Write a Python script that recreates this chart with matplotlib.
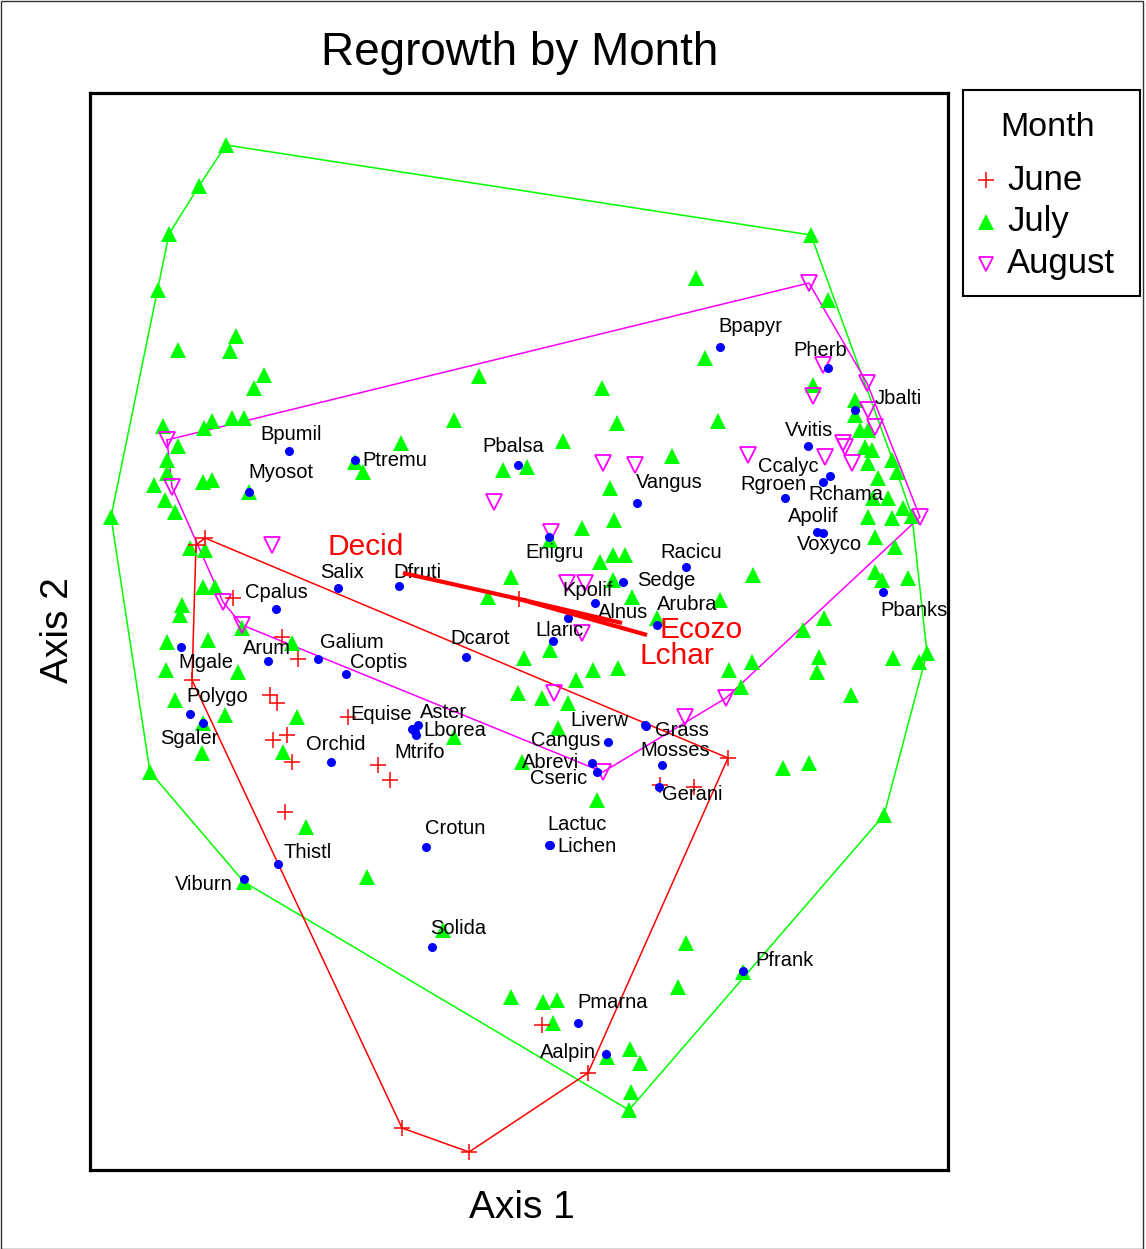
import matplotlib
matplotlib.use("Agg")
import matplotlib.pyplot as plt
from matplotlib.lines import Line2D
from matplotlib.patches import Rectangle

plt.rcParams['font.family'] = ['Liberation Sans', 'DejaVu Sans']

# ---------------- sample unit scores (Axis 1, Axis 2) by month ----------------
june_x = [115, 106, 143, 192, 208, 102, 180, 187, 258, 197, 183, 202, 288, 300, 195,
          638, 604, 570, 452, 498, 379, 312]
june_y = [632, 625, 572, 533, 511, 490, 475, 467, 453, 435, 430, 408, 405, 390, 358,
          412, 383, 385, 145, 97, 18, 42]

july_x = [136, 109, 79, 68, 88, 146, 140, 174, 164, 73, 114, 122, 142, 154, 88, 77,
          265, 273, 64, 77, 113, 122, 75, 85, 159, 21, 100, 115, 113, 125, 92, 90,
          77, 118, 152, 202, 76, 148, 85, 135, 113, 207, 112, 193, 60, 216, 277, 154,
          353, 421, 453, 467, 463, 517, 540, 550, 541, 539, 596, 588, 653, 794, 693,
          719, 761, 651, 639, 662, 729, 727, 803, 837, 829, 713, 734, 567, 630, 663,
          785, 792, 818, 805, 785, 723, 765, 765, 770, 778, 775, 782, 778, 802, 788,
          807, 783, 798, 778, 802, 813, 822, 721, 738, 606, 615, 628, 582, 389, 512,
          364, 527, 311, 473, 413, 437, 520, 524, 492, 460, 510, 523, 535, 421, 523,
          542, 398, 460, 434, 503, 528, 486, 428, 452, 478, 468, 364, 432, 507]
july_y = [1025, 984, 936, 880, 820, 834, 819, 795, 782, 744, 742, 749, 752, 752, 724, 710,
          708, 698, 685, 697, 688, 690, 670, 658, 678, 653, 622, 620, 583, 583, 565, 555,
          528, 530, 542, 527, 500, 498, 470, 455, 447, 453, 417, 418, 398, 343, 293, 288,
          240, 173, 168, 170, 147, 113, 121, 107, 78, 60, 227, 183, 198, 355, 402,
          407, 475, 483, 500, 508, 513, 498, 512, 517, 508, 540, 552, 552, 570, 595,
          598, 590, 592, 623, 633, 785, 770, 755, 740, 740, 723, 720, 707, 710, 692,
          698, 672, 672, 653, 652, 662, 654, 935, 870, 892, 812, 749, 714, 794, 782,
          750, 747, 727, 729, 700, 703, 682, 650, 642, 630, 608, 615, 615, 593, 590,
          573, 573, 520, 512, 500, 502, 490, 477, 472, 467, 442, 433, 408, 370]

august_x = [77, 82, 182, 133, 152, 719, 733, 723, 777, 778, 785, 753, 755, 735, 762,
            658, 830, 513, 545, 404, 461, 477, 495, 492, 464, 513, 595, 636]
august_y = [730, 683, 625, 568, 545, 887, 805, 774, 787, 760, 743, 727, 723, 713, 707,
            715, 653, 707, 705, 668, 638, 587, 587, 537, 477, 398, 453, 472]

# ---------------- species scores ----------------
species = ["Bpapyr", "Pherb", "Jbalti", "Bpumil", "Ptremu", "Myosot", "Pbalsa", "Vvitis",
           "Ccalyc", "Rgroen", "Rchama", "Vangus", "Apolif", "Voxyco", "Enigru", "Racicu",
           "Salix", "Dfruti", "Sedge", "Cpalus", "Kpolif", "Arubra", "Pbanks", "Alnus",
           "Llaric", "Arum", "Galium", "Dcarot", "Coptis", "Mgale", "Polygo", "Equise",
           "Aster", "Lborea", "Liverw", "Grass", "Sgaler", "Cangus", "Orchid", "Mtrifo",
           "Mosses", "Abrevi", "Cseric", "Gerani", "Lactuc", "Crotun", "Lichen", "Thistl",
           "Viburn", "Solida", "Pfrank", "Pmarna", "Aalpin"]
species_x = [630, 738, 765, 199, 265, 159, 428, 718, 740, 695, 733, 547, 727, 733, 459, 596,
             248, 309, 533, 186, 505, 567, 793, 478, 463, 178, 228, 376, 256, 91, 100, 322,
             328, 326, 555, 556, 113, 518, 241, 325, 572, 502, 507, 569, 459, 336, 460, 188,
             154, 342, 653, 488, 516]
species_y = [823, 802, 760, 719, 710, 678, 705, 724, 694, 672, 688, 667, 638, 637, 633, 603,
             582, 584, 588, 561, 567, 545, 578, 552, 529, 509, 511, 513, 496, 523, 456, 441,
             445, 435, 445, 444, 447, 428, 408, 438, 405, 407, 398, 383, 325, 323, 325, 306,
             291, 223, 199, 147, 116]

# ---------------- environmental vectors (joint plot) ----------------
vector_names = ["Decid", "Ecozo", "Lchar"]
vector_origin = (429, 571)
vector_tip_x = [313, 532, 557]
vector_tip_y = [597, 547, 535]

months = ["June", "July", "August"]

# label placement (pixel offsets from each point: right, up)
label_offsets = {
    "Bpapyr": (-2, 20), "Pherb": (-35, 18), "Jbalti": (20, 12), "Bpumil": (-29, 16),
    "Ptremu": (7, -1), "Myosot": (-1, 19), "Pbalsa": (-36, 19), "Vvitis": (-23, 15),
    "Ccalyc": (-72, 9), "Rgroen": (-45, 13), "Rchama": (-15, -13), "Vangus": (-1, 20),
    "Apolif": (-29, 15), "Voxyco": (-26, -12), "Enigru": (-24, -16), "Racicu": (-26, 14),
    "Salix": (-18, 16), "Dfruti": (-6, 14), "Sedge": (14, 2), "Cpalus": (-31, 16),
    "Kpolif": (-33, 12), "Arubra": (0, 20), "Pbanks": (-3, -19), "Alnus": (30, 5),
    "Llaric": (-18, 11), "Arum": (-25, 13), "Galium": (2, 16), "Dcarot": (-16, 18),
    "Coptis": (4, 12), "Mgale": (-3, -15), "Polygo": (-4, 17), "Equise": (-62, 14),
    "Aster": (2, 12), "Lborea": (7, 5), "Liverw": (-75, 5), "Grass": (9, -4),
    "Sgaler": (-43, -16), "Cangus": (-77, 2), "Orchid": (-25, 17), "Mtrifo": (-21, -21),
    "Mosses": (-22, 15), "Abrevi": (-70, 0), "Cseric": (-67, -6), "Gerani": (3, -8),
    "Lactuc": (-2, 20), "Crotun": (-1, 19), "Lichen": (7, -2), "Thistl": (5, 12),
    "Viburn": (-69, -5), "Solida": (-2, 19), "Pfrank": (12, 10), "Pmarna": (-1, 20),
    "Aalpin": (-66, 2),
}
vector_label_offsets = {"Decid": (-76, 26), "Ecozo": (38, -7), "Lchar": (-7, -21)}


def convex_hull(xs, ys):
    """Monotone-chain convex hull, returned as a closed ring."""
    pts = sorted(set(zip(xs, ys)))

    def cross(o, a, b):
        return (a[0] - o[0]) * (b[1] - o[1]) - (a[1] - o[1]) * (b[0] - o[0])

    lower, upper = [], []
    for p in pts:
        while len(lower) >= 2 and cross(lower[-2], lower[-1], p) <= 0:
            lower.pop()
        lower.append(p)
    for p in reversed(pts):
        while len(upper) >= 2 and cross(upper[-2], upper[-1], p) <= 0:
            upper.pop()
        upper.append(p)
    ring = lower[:-1] + upper[:-1]
    ring.append(ring[0])
    hx, hy = zip(*ring)
    return hx, hy


W, H = 1146, 1249
fig = plt.figure(figsize=(W / 100, H / 100), dpi=100)
fig.patch.set_facecolor("white")
fig.add_artist(Rectangle((0.5 / W, 0.5 / H), 1 - 4 / W, 1 - 1.5 / H, transform=fig.transFigure,
                         fill=False, edgecolor="#333333", linewidth=1.0))

ax = fig.add_axes([90 / W, 79 / H, 858 / W, 1077 / H])
ax.set_xlim(0, 858)
ax.set_ylim(0, 1077)
ax.set_xticks([])
ax.set_yticks([])
for s in ax.spines.values():
    s.set_linewidth(2.3)
    s.set_color("black")

RED, GREEN, MAGENTA, BLUE = "#ff0000", "#00ff00", "#ff00ff", "#0000ff"
month_style = {
    "June": dict(marker="+", ms=11, color=RED, mew=1.1),
    "July": dict(marker="^", ms=12, color=GREEN, mew=0),
    "August": dict(marker="v", ms=11.5, mfc="none", mec=MAGENTA, mew=1.3),
}

# convex hulls per month
for xs, ys, c in [(july_x, july_y, GREEN), (august_x, august_y, MAGENTA), (june_x, june_y, RED)]:
    hx, hy = convex_hull(xs, ys)
    ax.plot(hx, hy, color=c, lw=1.1, zorder=1)

# sample units
ax.plot(july_x, july_y, ls="none", zorder=2, **month_style["July"])
ax.plot(august_x, august_y, ls="none", zorder=2, **month_style["August"])
ax.plot(june_x, june_y, ls="none", zorder=2, **month_style["June"])

# species
ax.plot(species_x, species_y, ls="none", marker="o", ms=6.5, color=BLUE, mew=0, zorder=3)
for name, x, y in zip(species, species_x, species_y):
    dx, dy = label_offsets[name]
    ax.annotate(name, (x, y), xytext=(dx, dy), textcoords="offset pixels",
                ha="left", va="center", fontsize=14.5, color="black", zorder=4)

# environmental vectors
ox, oy = vector_origin
for name, tx, ty in zip(vector_names, vector_tip_x, vector_tip_y):
    ax.plot([ox, tx], [oy, ty], color=RED, lw=3.0, solid_capstyle="butt", zorder=5)
    dx, dy = vector_label_offsets[name]
    ax.annotate(name, (tx, ty), xytext=(dx, dy), textcoords="offset pixels",
                ha="left", va="center", fontsize=21.5, color=RED, zorder=5)
ax.plot([ox], [oy], marker="+", ms=11, color=RED, mew=1.1, zorder=5)

# titles
fig.text(520 / W, 1 - 53 / H, "Regrowth by Month", ha="center", va="center", fontsize=33)
fig.text(522 / W, 1 - 1208 / H, "Axis 1", ha="center", va="center", fontsize=28)
fig.text(58 / W, 1 - 630 / H, "Axis 2", ha="center", va="center", fontsize=28, rotation=90)

# legend box with title and one row per month
fig.add_artist(Rectangle((963 / W, 1 - 296 / H), 177 / W, 206 / H, transform=fig.transFigure,
                         fill=False, edgecolor="black", linewidth=1.5))
fig.text(1048 / W, 1 - 127 / H, "Month", ha="center", va="center", fontsize=24.5)
legend_marker_scale = {"June": 1.0, "July": 0.95, "August": 0.85}
for i, m in enumerate(months):
    yrow = 1 - (180 + 42 * i) / H
    style = dict(month_style[m])
    style["ms"] = style["ms"] * legend_marker_scale[m]
    fig.add_artist(Line2D([986 / W], [yrow], transform=fig.transFigure, ls="none", **style))
    fig.text(1007 / W, yrow, m, ha="left", va="center", fontsize=25)

fig.savefig("out.png", dpi=100, facecolor="white")
